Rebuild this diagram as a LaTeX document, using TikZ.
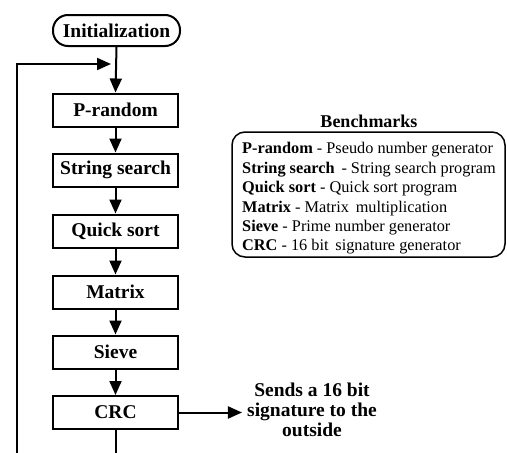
\documentclass[tikz,border=0pt]{standalone}
\usepackage{fontspec}
\setmainfont{Liberation Serif}
\usetikzlibrary{arrows.meta}
\begin{document}
\begin{tikzpicture}[x=1pt,y=-1pt,
  stepbox/.style={draw,line width=2pt,minimum width=125pt,minimum height=33pt,
    inner sep=0pt,font=\fontsize{19.5}{21}\selectfont\bfseries},
  startbox/.style={stepbox,minimum width=127pt,minimum height=31pt,rounded corners=15pt},
  flow/.style={line width=2pt,-{Triangle[length=14pt,width=12pt]}},
  plain/.style={line width=2pt},
  entry/.style={anchor=west,inner sep=0pt,font=\fontsize{16.3}{18}\selectfont}]
\useasboundingbox (0,0) rectangle (507,453);

% main chain
\node[startbox] (init) at (116.5,30.5) {Initialization};
\node[stepbox] (prand) at (115.5,110) {P-random};
\node[stepbox] (sstr) at (115.5,170) {String search};
\node[stepbox] (qsort) at (115.5,231) {Quick sort};
\node[stepbox] (matr) at (115.5,292) {Matrix};
\node[stepbox] (siev) at (115.5,352) {Sieve};
\node[stepbox] (crc) at (115.5,412.5) {CRC};

\draw[flow] (init.south) -- (prand.north);
\draw[flow] (prand.south) -- (sstr.north);
\draw[flow] (sstr.south) -- (qsort.north);
\draw[flow] (qsort.south) -- (matr.north);
\draw[flow] (matr.south) -- (siev.north);
\draw[flow] (siev.south) -- (crc.north);

% loop back to the start
\coordinate (crcdown) at (115.5,454);
\coordinate (loopbot) at (17,454);
\coordinate (looptop) at (17,64);
\coordinate (loopin) at (111,64);
\draw[plain] (crc.south) -- (crcdown);
\draw[flow] (loopbot) -- (looptop) -- (loopin);

% signature output
\node[align=center,inner sep=5pt,font=\fontsize{19.5}{20}\selectfont\bfseries]
  (sig) at (312,410) {Sends a 16 bit\\signature to the\\outside};
\draw[flow] (crc.east) -- (crc.east -| sig.west);

% benchmark legend
\node[font=\fontsize{18}{20}\selectfont\bfseries] (bt) at (369,121) {Benchmarks};
\draw[line width=1.5pt,rounded corners=13pt] (232,132) rectangle (505,257);
\node[entry] (e1) at (242,150) {\textbf{P-random} - Pseudo number generator};
\node[entry] (e2) at (242,169.5) {\textbf{String search}\, - String search program};
\node[entry] (e3) at (242,189) {\textbf{Quick sort} - Quick sort program};
\node[entry] (e4) at (242,208.5) {\textbf{Matrix} - Matrix\, multiplication};
\node[entry] (e5) at (242,228) {\textbf{Sieve} - Prime number generator};
\node[entry] (e6) at (242,247) {\textbf{CRC} - 16 bit\, signature generator};
\end{tikzpicture}
\end{document}
